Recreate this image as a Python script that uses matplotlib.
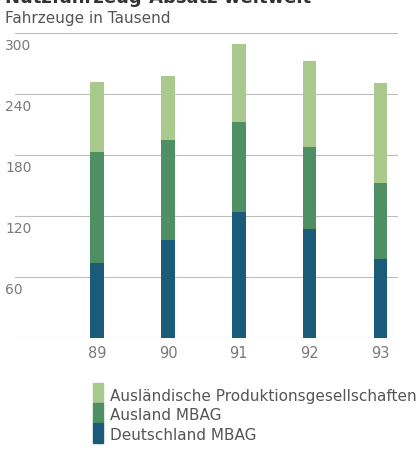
import numpy as np
from matplotlib import pyplot as plt
from matplotlib.patches import Rectangle

years = ['89', '90', '91', '92', '93']
deutschland = [74, 96, 124, 107, 78]
ausland = [109, 99, 88, 81, 74]          # Ausland MBAG
produktion = [69, 63, 77, 84, 99]        # Ausländische Produktionsgesellschaften
y_ticks = [60, 120, 180, 240, 300]

c_dark = '#195b78'
c_mid = '#4f8f64'
c_light = '#a9c98d'
c_text = '#7a7a7a'

fig = plt.figure(figsize=(4.2, 4.49), dpi=100)
ax = fig.add_axes([0.0357, 0.2472, 0.9123, 0.6793])

x = np.arange(len(years))
w = 0.19
base2 = np.array(deutschland)
base3 = base2 + np.array(ausland)
ax.bar(x, deutschland, w, color=c_dark, zorder=2)
ax.bar(x, ausland, w, bottom=base2, color=c_mid, zorder=2)
ax.bar(x, produktion, w, bottom=base3, color=c_light, zorder=2)

ax.set_xlim(-1.16, 4.25)
ax.set_ylim(0, 300)
for v in [0] + y_ticks:
    ax.axhline(v, color='#bdbdbd', lw=0.8, zorder=1)
    if v > 0:
        ax.text(-1.30, v - 6, str(v), ha='left', va='top', fontsize=10,
                color=c_text, clip_on=False)

ax.set_xticks(x)
ax.set_xticklabels(years, fontsize=10.5, color=c_text)
ax.set_yticks([])
ax.tick_params(axis='x', length=0, pad=6)
for s in ax.spines.values():
    s.set_visible(False)

fig.text(0.012, 0.994, 'Nutzfahrzeug-Absatz weltweit', fontsize=13, fontweight='bold',
         color='#333333', va='baseline', ha='left')
fig.text(0.012, 0.958, 'Fahrzeuge in Tausend', fontsize=11, color='#555555',
         va='center', ha='left')

# legend
labels = ['Ausländische Produktionsgesellschaften', 'Ausland MBAG', 'Deutschland MBAG']
colors = [c_light, c_mid, c_dark]
for i, (lab, col) in enumerate(zip(labels, colors)):
    top = 383 + i * 20
    fig.patches.append(Rectangle((93 / 420, 1 - (top + 20) / 449), 10 / 420, 20 / 449,
                                 transform=fig.transFigure, color=col))
    fig.text(110 / 420, 1 - (397 + i * 19) / 449, lab, fontsize=11, color='#555555',
             va='center', ha='left')

fig.savefig('out.png', dpi=100)
